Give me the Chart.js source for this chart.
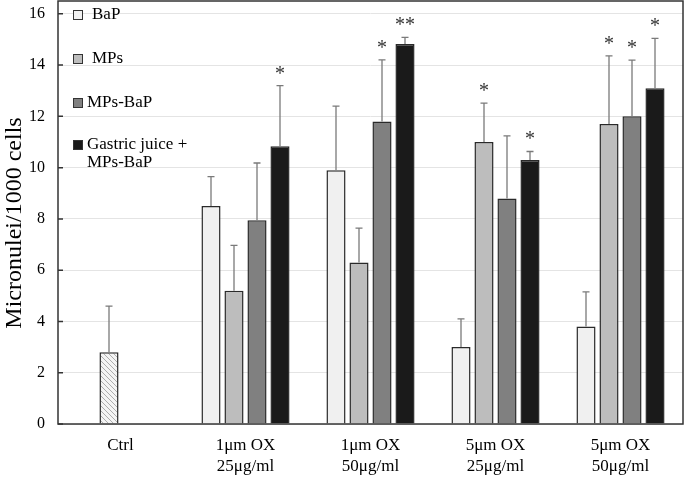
<!DOCTYPE html>
<html>
<head>
<meta charset="utf-8">
<script src="https://cdn.jsdelivr.net/npm/chart.js@4/dist/chart.umd.min.js"></script>
<style>
  html, body { margin: 0; padding: 0; background: #fff; }
  #wrap { width: 685px; height: 477px; }
</style>
</head>
<body>
<div id="wrap"><canvas id="mnChart"></canvas></div>
<script>
// categories
const groups = ['Ctrl', ['1\u03bcm OX', '25\u03bcg/ml'], ['1\u03bcm OX', '50\u03bcg/ml'],
  ['5\u03bcm OX', '25\u03bcg/ml'], ['5\u03bcm OX', '50\u03bcg/ml']];

// means (micronuclei / 1000 cells)
const ctrl = [2.8, null, null, null, null];
const bap = [null, 8.5, 9.9, 3.0, 3.8];
const mps = [null, 5.2, 6.3, 11.0, 11.7];
const mpsBap = [null, 7.95, 11.8, 8.8, 12.0];
const gastric = [null, 10.83, 14.82, 10.3, 13.1];

// standard deviations (upper error bar only)
const ctrlSd = [1.8, null, null, null, null];
const bapSd = [null, 1.15, 2.5, 1.1, 1.35];
const mpsSd = [null, 1.77, 1.34, 1.52, 2.66];
const mpsBapSd = [null, 2.23, 2.4, 2.44, 2.19];
const gastricSd = [null, 2.37, 0.26, 0.33, 1.94];

// significance marks
const ctrlSig = ['', '', '', '', ''];
const bapSig = ['', '', '', '', ''];
const mpsSig = ['', '', '', '*', '*'];
const mpsBapSig = ['', '', '*', '', '*'];
const gastricSig = ['', '*', '**', '*', '*'];

const yTicks = [0, 2, 4, 6, 8, 10, 12, 14, 16];
const yTitle = 'Micronulei/1000 cells';

const SERIF = '"Liberation Serif", "DejaVu Serif", serif';

function hatch() {
  const c = document.createElement('canvas');
  c.width = 5; c.height = 5;
  const g = c.getContext('2d');
  g.fillStyle = '#f4f4f4';
  g.fillRect(0, 0, 5, 5);
  g.strokeStyle = '#9a9a9a';
  g.lineWidth = 0.8;
  g.beginPath();
  g.moveTo(-1, -1); g.lineTo(6, 6);
  g.moveTo(-1, 4); g.lineTo(1, 6);
  g.moveTo(4, -1); g.lineTo(6, 1);
  g.stroke();
  return g.createPattern(c, 'repeat');
}

const errorBars = {
  id: 'errorBars',
  afterDatasetsDraw(chart) {
    const ctx = chart.ctx;
    const y = chart.scales.y;
    ctx.save();
    chart.data.datasets.forEach((ds, i) => {
      const meta = chart.getDatasetMeta(i);
      meta.data.forEach((bar, j) => {
        const v = ds.data[j];
        const sd = ds.sd[j];
        if (v == null || sd == null) return;
        const top = y.getPixelForValue(v + sd);
        ctx.strokeStyle = '#7a7a7a';
        ctx.lineWidth = 1.3;
        ctx.beginPath();
        ctx.moveTo(bar.x, bar.y);
        ctx.lineTo(bar.x, top);
        ctx.moveTo(bar.x - 3.5, top);
        ctx.lineTo(bar.x + 3.5, top);
        ctx.stroke();
        const mark = ds.sig[j];
        if (mark) {
          ctx.fillStyle = '#333';
          ctx.font = '20px ' + SERIF;
          ctx.textAlign = 'center';
          ctx.textBaseline = 'alphabetic';
          ctx.fillText(mark, bar.x, top - 6);
        }
      });
    });
    ctx.restore();
  }
};

const frame = {
  id: 'frame',
  afterDraw(chart) {
    const { ctx, chartArea: a } = chart;
    const y = chart.scales.y;
    ctx.save();
    ctx.strokeStyle = '#333';
    ctx.lineWidth = 1.5;
    ctx.strokeRect(a.left, a.top, a.right - a.left, a.bottom - a.top);
    ctx.beginPath();
    yTicks.forEach(t => {
      const py = y.getPixelForValue(t);
      ctx.moveTo(a.left, py);
      ctx.lineTo(a.left + 5, py);
    });
    ctx.stroke();
    // axis title, a little below the middle as in the original figure
    ctx.translate(21, 223);
    ctx.rotate(-Math.PI / 2);
    ctx.fillStyle = '#000';
    ctx.font = '24px ' + SERIF;
    ctx.textAlign = 'center';
    ctx.textBaseline = 'alphabetic';
    ctx.fillText(yTitle, 0, 0);
    ctx.restore();
  }
};

const boxLegend = {
  id: 'boxLegend',
  afterDraw(chart) {
    const ctx = chart.ctx;
    const items = [
      { c: '#f0f0f0', sy: 15, tx: 92, lines: ['BaP'] },
      { c: '#bdbdbd', sy: 59, tx: 92, lines: ['MPs'] },
      { c: '#808080', sy: 103, tx: 87, lines: ['MPs-BaP'] },
      { c: '#1a1a1a', sy: 145, tx: 87, lines: ['Gastric juice +', 'MPs-BaP'] }
    ];
    ctx.save();
    ctx.font = '17px ' + SERIF;
    ctx.textBaseline = 'middle';
    ctx.textAlign = 'left';
    items.forEach(it => {
      ctx.fillStyle = it.c;
      ctx.fillRect(73.5, it.sy - 4.5, 9, 9);
      ctx.strokeStyle = '#333';
      ctx.lineWidth = 1;
      ctx.strokeRect(73.5, it.sy - 4.5, 9, 9);
      ctx.fillStyle = '#000';
      it.lines.forEach((l, k) => ctx.fillText(l, it.tx, it.sy + k * 18));
    });
    ctx.restore();
  }
};

function bars(label, data, sd, sig, color, stack) {
  return {
    label: label,
    data: data,
    sd: sd,
    sig: sig,
    stack: stack,
    backgroundColor: color,
    borderColor: '#2a2a2a',
    borderWidth: 1.5,
    borderSkipped: 'bottom'
  };
}

const ctx = document.getElementById('mnChart').getContext('2d');

new Chart(ctx, {
  type: 'bar',
  data: {
    labels: groups,
    datasets: [
      bars('BaP', bap, bapSd, bapSig, '#f0f0f0', 's0'),
      bars('Ctrl', ctrl, ctrlSd, ctrlSig, hatch(), 's1'),
      bars('MPs', mps, mpsSd, mpsSig, '#bdbdbd', 's1'),
      bars('MPs-BaP', mpsBap, mpsBapSd, mpsBapSig, '#808080', 's2'),
      bars('Gastric juice + MPs-BaP', gastric, gastricSd, gastricSig, '#1a1a1a', 's3')
    ]
  },
  options: {
    responsive: true,
    maintainAspectRatio: false,
    animation: false,
    devicePixelRatio: 1,
    layout: { padding: { top: 1, right: 2, left: 0, bottom: 0 } },
    categoryPercentage: 0.736,
    barPercentage: 0.83,
    plugins: {
      legend: { display: false },
      tooltip: { enabled: false }
    },
    scales: {
      x: {
        grid: { display: false, drawTicks: false },
        border: { display: false },
        ticks: {
          color: '#000',
          padding: 12,
          font: { family: SERIF, size: 17, lineHeight: 1.18 }
        },
        afterFit(scale) { scale.height = 53; scale.paddingLeft = 0; scale.paddingRight = 0; }
      },
      y: {
        min: 0,
        max: 16.5,
        afterBuildTicks(scale) {
          scale.ticks = yTicks.map(v => ({ value: v }));
        },
        grid: { color: '#e4e4e4', lineWidth: 1, drawTicks: false },
        border: { display: false },
        ticks: {
          color: '#000',
          padding: 13,
          font: { family: SERIF, size: 16 }
        },
        afterFit(scale) { scale.width = 58; scale.paddingTop = 0; scale.paddingBottom = 0; }
      }
    }
  },
  plugins: [errorBars, frame, boxLegend]
});
</script>
</body>
</html>
